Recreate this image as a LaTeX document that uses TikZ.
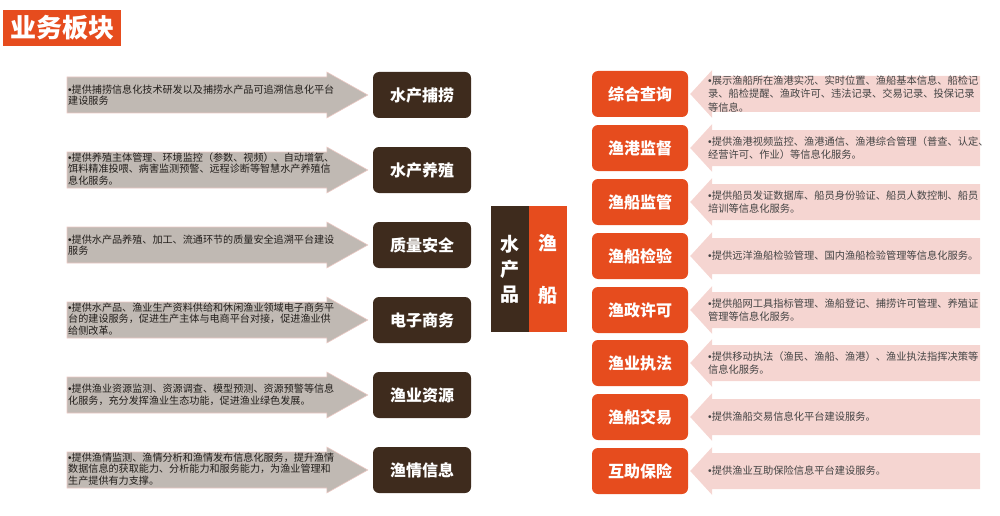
\documentclass[tikz,border=0pt]{standalone}
\usepackage{fontspec}
\setmainfont{Noto Sans CJK SC}
\newfontfamily\dotfont{Liberation Sans}
\usepackage{tikz}
\usetikzlibrary{positioning,calc}
\definecolor{brownbox}{HTML}{3E2B1D}
\definecolor{orangebox}{HTML}{E64C1E}
\definecolor{grayarrow}{HTML}{C0B9B3}
\definecolor{pinkarrow}{HTML}{F5D5D1}
\definecolor{pinkedge}{HTML}{ECC9C4}
\definecolor{textdark}{HTML}{221E1B}
\definecolor{textgray}{HTML}{444444}

\begin{document}
\begin{tikzpicture}[x=1pt,y=-1pt]
                    \tikzstyle{lbox}=[fill=brownbox,rounded corners=6,minimum width=98,minimum height=46,inner sep=0,text=white,font=\fontsize{16}{16}\selectfont\bfseries]
                    \tikzstyle{rbox}=[lbox,fill=orangebox,minimum width=96]
                    \tikzstyle{ltext}=[anchor=west,text width=262,align=left,inner sep=0,text=textdark,font=\fontsize{10.1}{11.6}\selectfont]
                    \tikzstyle{rtext}=[ltext,text width=285,text=textgray,font=\fontsize{10.25}{13.5}\selectfont]
                    \tikzstyle{larrow}=[fill=grayarrow,draw=pinkedge,line width=0.6]
                    \tikzstyle{rarrow}=[fill=pinkarrow,draw=none]
                    \tikzstyle{column}=[minimum width=38,minimum height=126,inner sep=0,text=white,align=center]
                    {
                        \useasboundingbox (0,0) rectangle (1000,516);

                        \node[fill=orangebox,minimum width=118,minimum height=36,inner sep=0,text=white,font=\fontsize{26}{26}\selectfont\bfseries] (title) at (62,28) {业务板块};

                        % left column
                        \node[lbox] (l1) at (422,95) {水产捕捞};
                        \node[lbox] (l2) at (422,170) {水产养殖};
                        \node[lbox] (l3) at (422,245) {质量安全};
                        \node[lbox] (l4) at (422,320) {电子商务};
                        \node[lbox] (l5) at (422,395) {渔业资源};
                        \node[lbox] (l6) at (422,470) {渔情信息};

                        \filldraw[larrow] let \p1=(l1.west) in (67,\y1-18) -- (\x1-46,\y1-18) -- (\x1-46,\y1-23) -- (\x1-5,\y1) -- (\x1-46,\y1+23) -- (\x1-46,\y1+18) -- (67,\y1+18) -- cycle;
                        \filldraw[larrow] let \p1=(l2.west) in (67,\y1-18) -- (\x1-46,\y1-18) -- (\x1-46,\y1-23) -- (\x1-5,\y1) -- (\x1-46,\y1+23) -- (\x1-46,\y1+18) -- (67,\y1+18) -- cycle;
                        \filldraw[larrow] let \p1=(l3.west) in (67,\y1-18) -- (\x1-46,\y1-18) -- (\x1-46,\y1-23) -- (\x1-5,\y1) -- (\x1-46,\y1+23) -- (\x1-46,\y1+18) -- (67,\y1+18) -- cycle;
                        \filldraw[larrow] let \p1=(l4.west) in (67,\y1-18) -- (\x1-46,\y1-18) -- (\x1-46,\y1-23) -- (\x1-5,\y1) -- (\x1-46,\y1+23) -- (\x1-46,\y1+18) -- (67,\y1+18) -- cycle;
                        \filldraw[larrow] let \p1=(l5.west) in (67,\y1-18) -- (\x1-46,\y1-18) -- (\x1-46,\y1-23) -- (\x1-5,\y1) -- (\x1-46,\y1+23) -- (\x1-46,\y1+18) -- (67,\y1+18) -- cycle;
                        \filldraw[larrow] let \p1=(l6.west) in (67,\y1-18) -- (\x1-46,\y1-18) -- (\x1-46,\y1-23) -- (\x1-5,\y1) -- (\x1-46,\y1+23) -- (\x1-46,\y1+18) -- (67,\y1+18) -- cycle;

                        \node[ltext] (tl1) at (68,95) {{\dotfont •}提供捕捞信息化技术研发以及捕捞水产品可追溯信息化平台\\建设服务};
                        \node[ltext] (tl2) at (68,169) {{\dotfont •}提供养殖主体管理、环境监控（参数、视频）、自动增氧、\\饵料精准投喂、病害监测预警、远程诊断等智慧水产养殖信\\息化服务。};
                        \node[ltext] (tl3) at (68,245) {{\dotfont •}提供水产品养殖、加工、流通环节的质量安全追溯平台建设\\服务};
                        \node[ltext] (tl4) at (68,319) {{\dotfont •}提供水产品、渔业生产资料供给和休闲渔业领域电子商务平\\台的建设服务，促进生产主体与电商平台对接，促进渔业供\\给侧改革。};
                        \node[ltext] (tl5) at (68,395) {{\dotfont •}提供渔业资源监测、资源调查、模型预测、资源预警等信息\\化服务，充分发挥渔业生态功能，促进渔业绿色发展。};
                        \node[ltext] (tl6) at (68,469) {{\dotfont •}提供渔情监测、渔情分析和渔情发布信息化服务，提升渔情\\数据信息的获取能力、分析能力和服务能力，为渔业管理和\\生产提供有力支撑。};

                        % middle
                        \node[column,fill=brownbox,font=\fontsize{19}{25}\selectfont\bfseries] (shui) at (510,269) {水\\产\\品};
                        \node[column,fill=orangebox,font=\fontsize{19}{52}\selectfont\bfseries] (yu) [right=0pt of shui] {渔\\船};

                        % right column
                        \node[rbox] (r1) at (640,94) {综合查询};
                        \node[rbox] (r2) at (640,148) {渔港监督};
                        \node[rbox] (r3) at (640,202) {渔船监管};
                        \node[rbox] (r4) at (640,256) {渔船检验};
                        \node[rbox] (r5) at (640,310) {渔政许可};
                        \node[rbox] (r6) at (640,363) {渔业执法};
                        \node[rbox] (r7) at (640,417) {渔船交易};
                        \node[rbox] (r8) at (640,471) {互助保险};

                        \fill[rarrow] let \p1=(r1.east) in (980,\y1-18) -- (\x1+24,\y1-18) -- (\x1+24,\y1-24) -- (\x1+2,\y1) -- (\x1+24,\y1+24) -- (\x1+24,\y1+18) -- (980,\y1+18) -- cycle;
                        \fill[rarrow] let \p1=(r2.east) in (980,\y1-18) -- (\x1+24,\y1-18) -- (\x1+24,\y1-24) -- (\x1+2,\y1) -- (\x1+24,\y1+24) -- (\x1+24,\y1+18) -- (980,\y1+18) -- cycle;
                        \fill[rarrow] let \p1=(r3.east) in (980,\y1-18) -- (\x1+24,\y1-18) -- (\x1+24,\y1-24) -- (\x1+2,\y1) -- (\x1+24,\y1+24) -- (\x1+24,\y1+18) -- (980,\y1+18) -- cycle;
                        \fill[rarrow] let \p1=(r4.east) in (980,\y1-18) -- (\x1+24,\y1-18) -- (\x1+24,\y1-24) -- (\x1+2,\y1) -- (\x1+24,\y1+24) -- (\x1+24,\y1+18) -- (980,\y1+18) -- cycle;
                        \fill[rarrow] let \p1=(r5.east) in (980,\y1-18) -- (\x1+24,\y1-18) -- (\x1+24,\y1-24) -- (\x1+2,\y1) -- (\x1+24,\y1+24) -- (\x1+24,\y1+18) -- (980,\y1+18) -- cycle;
                        \fill[rarrow] let \p1=(r6.east) in (980,\y1-18) -- (\x1+24,\y1-18) -- (\x1+24,\y1-24) -- (\x1+2,\y1) -- (\x1+24,\y1+24) -- (\x1+24,\y1+18) -- (980,\y1+18) -- cycle;
                        \fill[rarrow] let \p1=(r7.east) in (980,\y1-18) -- (\x1+24,\y1-18) -- (\x1+24,\y1-24) -- (\x1+2,\y1) -- (\x1+24,\y1+24) -- (\x1+24,\y1+18) -- (980,\y1+18) -- cycle;
                        \fill[rarrow] let \p1=(r8.east) in (980,\y1-18) -- (\x1+24,\y1-18) -- (\x1+24,\y1-24) -- (\x1+2,\y1) -- (\x1+24,\y1+24) -- (\x1+24,\y1+18) -- (980,\y1+18) -- cycle;

                        \node[rtext] (tr1) at (708,94) {{\dotfont •}展示渔船所在渔港实况、实时位置、渔船基本信息、船检记\\录、船检提醒、渔政许可、违法记录、交易记录、投保记录\\等信息。};
                        \node[rtext] (tr2) at (708,148) {{\dotfont •}提供渔港视频监控、渔港通信、渔港综合管理（普查、认定、\\经营许可、作业）等信息化服务。};
                        \node[rtext] (tr3) at (708,202) {{\dotfont •}提供船员发证数据库、船员身份验证、船员人数控制、船员\\培训等信息化服务。};
                        \node[rtext] (tr4) at (708,256) {{\dotfont •}提供远洋渔船检验管理、国内渔船检验管理等信息化服务。};
                        \node[rtext] (tr5) at (708,310) {{\dotfont •}提供船网工具指标管理、渔船登记、捕捞许可管理、养殖证\\管理等信息化服务。};
                        \node[rtext] (tr6) at (708,363) {{\dotfont •}提供移动执法（渔民、渔船、渔港）、渔业执法指挥决策等\\信息化服务。};
                        \node[rtext] (tr7) at (708,417) {{\dotfont •}提供渔船交易信息化平台建设服务。};
                        \node[rtext] (tr8) at (708,471) {{\dotfont •}提供渔业互助保险信息平台建设服务。};
                    }
                \end{tikzpicture}
\end{document}
